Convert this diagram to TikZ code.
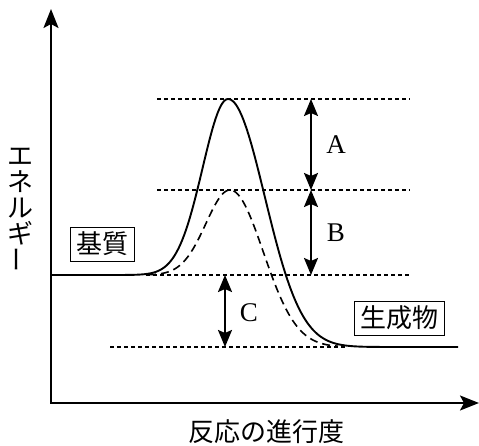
\documentclass[tikz,border=0pt]{standalone}
\usepackage{fontspec}
\setmainfont{Liberation Serif}
\newfontfamily\jp{Noto Sans CJK JP}
\usetikzlibrary{arrows.meta}
\tikzset{
  axisline/.style={line width=2.2pt, {Stealth[length=19pt,width=15pt,inset=4pt]}-{Stealth[length=19pt,width=15pt,inset=4pt]}},
  dimarrow/.style={line width=2pt, {Stealth[length=17pt,width=14pt,inset=3pt]}-{Stealth[length=17pt,width=14pt,inset=3pt]}},
  guide/.style={line width=1.3pt, dash pattern=on 4pt off 3pt},
  curve/.style={line width=1.9pt, samples=90, smooth},
  dcurve/.style={line width=1.6pt, dash pattern=on 8pt off 5pt, samples=70, smooth},
  boxlabel/.style={draw, line width=0.8pt, font=\jp\fontsize{26}{26}\selectfont, inner xsep=6pt, inner ysep=5pt},
  letter/.style={font=\fontsize{27}{27}\selectfont},
  jplabel/.style={font=\jp\fontsize{26}{26}\selectfont}
}
\begin{document}
\begin{tikzpicture}[x=1pt,y=-1pt]
\useasboundingbox (0,0) rectangle (479,446);
% coordinates
\coordinate (ytop) at (51,9);
\coordinate (O) at (51,403);
\coordinate (xend) at (479,403);
\coordinate (g1a) at (157,99);  \coordinate (g1b) at (410,99);
\coordinate (g2a) at (157,190); \coordinate (g2b) at (410,190);
\coordinate (g3a) at (146,275); \coordinate (g3b) at (410,275);
\coordinate (g4a) at (110,347); \coordinate (g4b) at (345,347);
\coordinate (a1) at (311,99);  \coordinate (a2) at (311,190);
\coordinate (b1) at (311,190); \coordinate (b2) at (311,275);
\coordinate (c1) at (225,275); \coordinate (c2) at (225,347);
% axes
\draw[axisline] (ytop) -- (O) -- (xend);
% guide lines
\draw[guide] (g1a) -- (g1b);
\draw[guide] (g2a) -- (g2b);
\draw[guide] (g3a) -- (g3b);
\draw[guide] (g4a) -- (g4b);
% solid curve (uncatalysed)
\draw[curve] plot[domain=51:228] (\x, {275-176*exp(-((\x-228)/36)^2)})
  -- plot[domain=228:458] (\x, {347-248*exp(-((\x-228)/52)^2)});
% dashed curve (catalysed)
\draw[dcurve] plot[domain=148:230] (\x, {275-85*exp(-((\x-230)/34)^2)})
  -- plot[domain=230:338] (\x, {347-157*exp(-((\x-230)/47)^2)});
% dimension arrows
\draw[dimarrow] (a1) -- (a2);
\draw[dimarrow] (b1) -- (b2);
\draw[dimarrow] (c1) -- (c2);
\node[letter] (A) at (336,145) {A};
\node[letter] (B) at (336,233) {B};
\node[letter] (C) at (249,313) {C};
% boxes
\node[boxlabel] (sub) at (102.5,244) {基質};
\node[boxlabel] (prod) at (399,318) {生成物};
% axis labels
\node[jplabel, align=center, inner sep=0pt] (ylab) at (21,210)
  {\setlength{\baselineskip}{24pt}エ\\ネ\\ル\\ギ\\\rotatebox{90}{ー}};
\node[jplabel] (xlab) at (266,432) {反応の進行度};
\end{tikzpicture}
\end{document}
